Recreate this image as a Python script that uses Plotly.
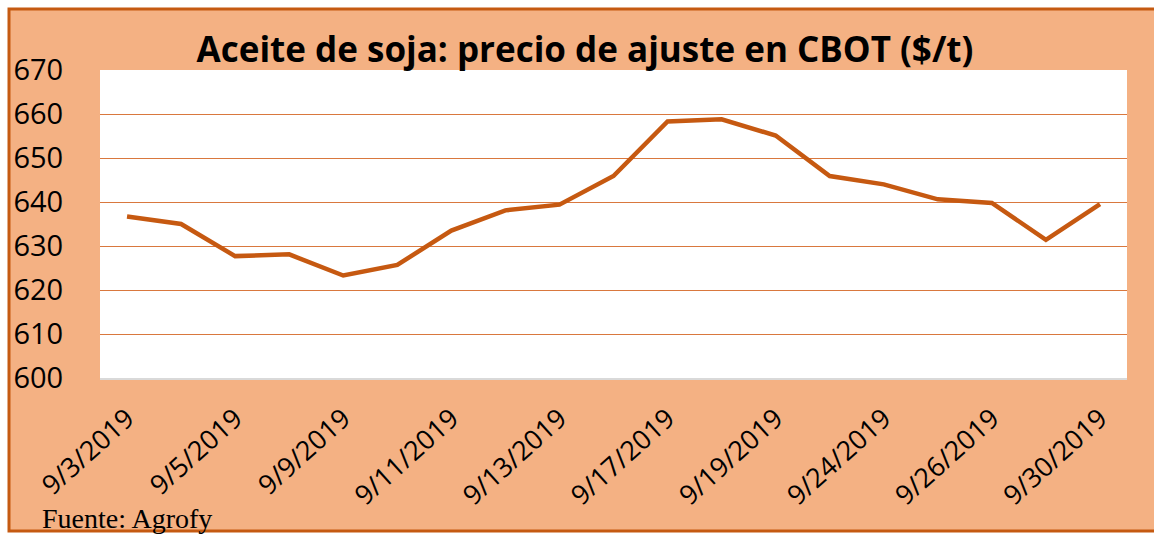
import plotly.graph_objects as go

dates = ["9/3/2019", "9/4/2019", "9/5/2019", "9/6/2019", "9/9/2019", "9/10/2019",
         "9/11/2019", "9/12/2019", "9/13/2019", "9/16/2019", "9/17/2019", "9/18/2019",
         "9/19/2019", "9/20/2019", "9/24/2019", "9/25/2019", "9/26/2019", "9/27/2019",
         "9/30/2019"]
prices = [636.7, 635.0, 627.7, 628.1, 623.3, 625.7, 633.5, 638.1, 639.4, 645.9,
          658.3, 658.8, 655.1, 645.9, 644.0, 640.6, 639.8, 631.4, 639.5]
shown_ticks = ["9/3/2019", "9/5/2019", "9/9/2019", "9/11/2019", "9/13/2019",
               "9/17/2019", "9/19/2019", "9/24/2019", "9/26/2019", "9/30/2019"]
y_ticks = [600, 610, 620, 630, 640, 650, 660, 670]

W, H = 1154, 534
L, R, T, B = 100, 27, 70, 156
pw, ph = W - L - R, H - T - B


def px(x):
    return (x - L) / pw


def py(y):
    return (H - B - y) / ph


ORANGE_BG = "#F4B183"
BORDER = "#C55A11"
LINE = "#C65911"
GRID = "#D9783E"

fig = go.Figure()
fig.add_trace(go.Scatter(x=dates, y=prices, mode="lines",
                         line=dict(color=LINE, width=4.5), showlegend=False))

shapes = [
    dict(type="rect", xref="paper", yref="paper", x0=px(-10), x1=px(W + 10),
         y0=py(8), y1=py(-10), fillcolor="white", line=dict(width=0), layer="below"),
    dict(type="rect", xref="paper", yref="paper", x0=px(-10), x1=px(8),
         y0=py(-10), y1=py(H + 10), fillcolor="white", line=dict(width=0), layer="below"),
    dict(type="rect", xref="paper", yref="paper", x0=px(-10), x1=px(W + 10),
         y0=py(H + 10), y1=py(532), fillcolor="white", line=dict(width=0), layer="below"),
    dict(type="rect", xref="paper", yref="paper", x0=px(9), x1=px(W + 20),
         y0=py(531), y1=py(9), line=dict(color=BORDER, width=3), layer="below"),
]

fig.update_layout(
    width=W, height=H,
    margin=dict(l=L, r=R, t=T, b=B),
    paper_bgcolor=ORANGE_BG,
    plot_bgcolor="white",
    shapes=shapes,
    title=dict(text="<b>Aceite de soja: precio de ajuste en CBOT ($/t)</b>",
               font=dict(family="Open Sans", size=35, color="black"),
               x=px(585), xref="paper", xanchor="center",
               y=1 - 50 / H, yref="container", yanchor="middle"),
    xaxis=dict(type="category", range=[-0.5, len(dates) - 0.5],
               tickmode="array", tickvals=shown_ticks, ticktext=shown_ticks,
               tickangle=-42, tickfont=dict(family="Open Sans", size=27, color="black"),
               showgrid=False, showline=True, linecolor="#D9D9D9", linewidth=2,
               ticks="outside", ticklen=12, tickcolor="rgba(0,0,0,0)", zeroline=False),
    yaxis=dict(range=[600, 670], tickmode="array", tickvals=y_ticks,
               tickfont=dict(family="Open Sans", size=29, color="black"),
               showgrid=True, gridcolor=GRID, gridwidth=1,
               showline=False, ticks="outside", ticklen=30,
               tickcolor="rgba(0,0,0,0)", zeroline=False),
    annotations=[dict(text="Fuente: Agrofy", xref="paper", yref="paper",
                      x=px(40), y=py(518), xanchor="left", yanchor="middle",
                      showarrow=False,
                      font=dict(family="Liberation Serif", size=28, color="black"))],
)

fig.write_html("out.html", config={"displayModeBar": False},
               post_script="document.body.style.margin='0px';")
